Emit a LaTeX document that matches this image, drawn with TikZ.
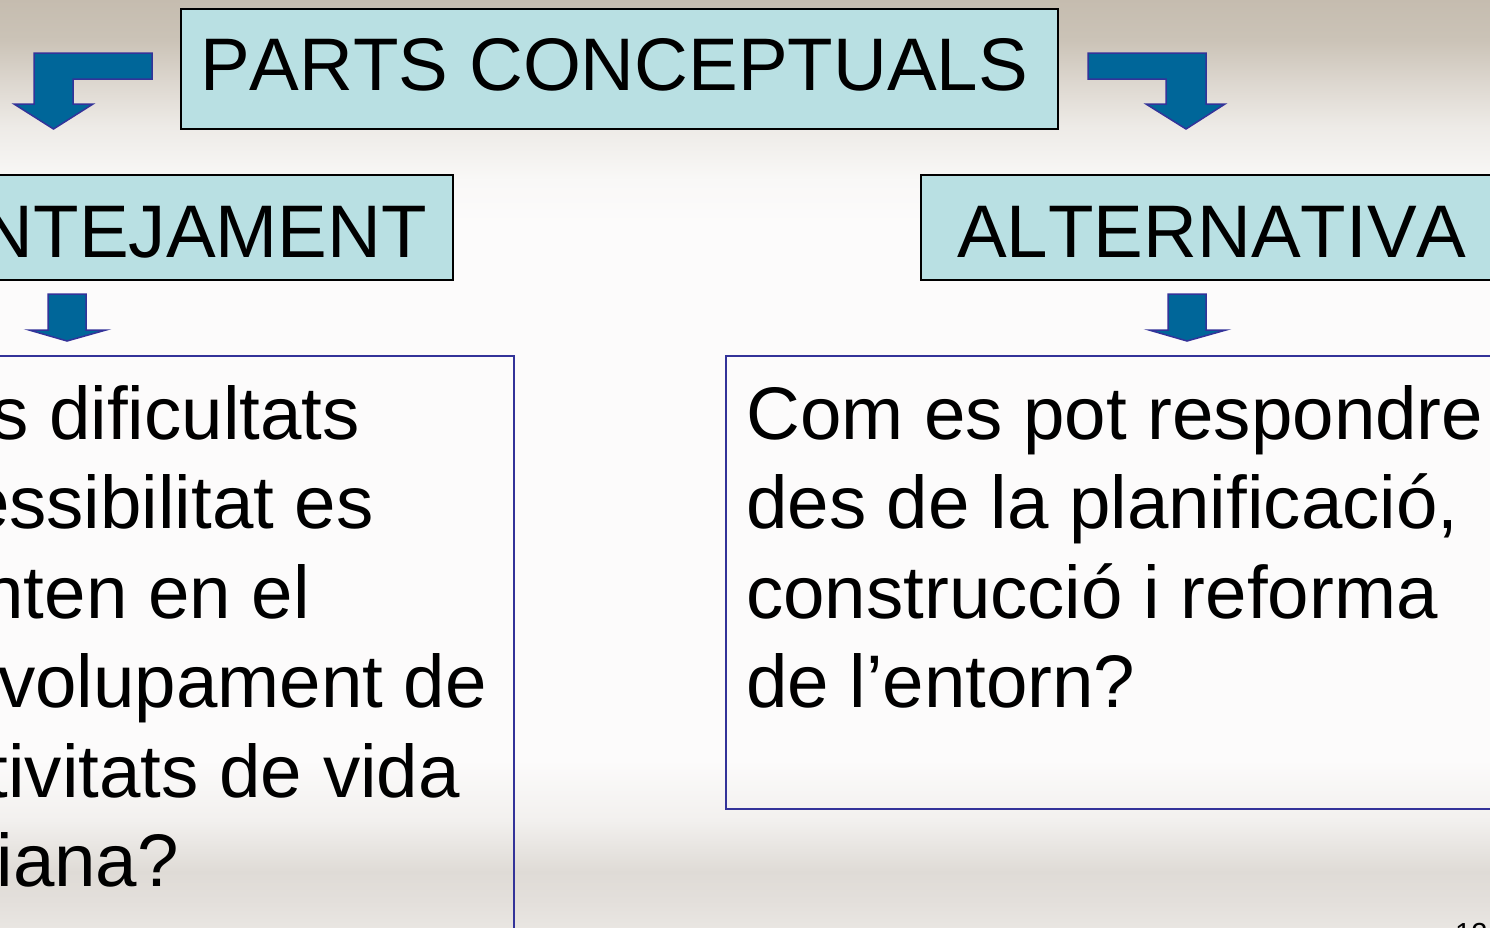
\documentclass[tikz,border=0pt]{standalone}
\usepackage{fontspec}
\setmainfont[Kerning=Off]{Liberation Sans}
\definecolor{boxfill}{HTML}{B9E0E3}
\definecolor{arrowfill}{HTML}{006699}
\definecolor{arrowline}{HTML}{333399}
\definecolor{framecol}{HTML}{333399}
\definecolor{bgA}{HTML}{C5BCAF}
\definecolor{bgB}{HTML}{CBC3B7}
\definecolor{bgC}{HTML}{DCD6CE}
\definecolor{bgD}{HTML}{EDEAE6}
\definecolor{bgE}{HTML}{F9F8F7}
\definecolor{bgF}{HTML}{FCFBFB}
\definecolor{bgG}{HTML}{F2F0EE}
\definecolor{bgH}{HTML}{DFDBD6}
\definecolor{bgI}{HTML}{E3DFDB}
\definecolor{bgJ}{HTML}{E9E6E2}
\tikzset{
  bigtext/.style={inner sep=0pt, font=\fontsize{74.5}{89.5}\selectfont},
  headbox/.style={draw=black, line width=2pt, fill=boxfill, inner sep=0pt},
  framebox/.style={draw=framecol, line width=2pt, inner sep=0pt},
  blockarrow/.style={fill=arrowfill, draw=arrowline, line width=1.5pt, line join=miter}
}
\begin{document}
\begin{tikzpicture}[x=1pt,y=-1pt]
\useasboundingbox (0,0) rectangle (1490,927);
\clip (0,0) rectangle (1490,927);
% background
\fill[top color=bgA, bottom color=bgB] (0,-1) rectangle (1490,40.5);
\fill[top color=bgB, bottom color=bgC] (0,40) rectangle (1490,80.5);
\fill[top color=bgC, bottom color=bgD] (0,80) rectangle (1490,125.5);
\fill[top color=bgD, bottom color=bgE] (0,125) rectangle (1490,180.5);
\fill[top color=bgE, bottom color=bgF] (0,180) rectangle (1490,225.5);
\fill[bgF] (0,225) rectangle (1490,760.5);
\fill[top color=bgF, bottom color=bgG] (0,760) rectangle (1490,820.5);
\fill[top color=bgG, bottom color=bgH] (0,820) rectangle (1490,871.5);
\fill[top color=bgH, bottom color=bgI] (0,871) rectangle (1490,900.5);
\fill[top color=bgI, bottom color=bgJ] (0,900) rectangle (1490,928);

% boxes
\node[headbox, minimum width=877pt, minimum height=120pt] (topbox) at (619.5,69) {};
\node[headbox, minimum width=473pt, minimum height=105pt] (lefthead) at (216.5,227.5) {};
\node[headbox, minimum width=589pt, minimum height=105pt] (righthead) at (1215.5,227.5) {};
\node[framebox, minimum width=534pt, minimum height=594pt] (leftframe) at (247,653) {};
\node[framebox, minimum width=784pt, minimum height=453pt] (rightframe) at (1118,582.5) {};

% heading texts
\node[bigtext, anchor=base west] (toptext) at (200,90) {PARTS CONCEPTUALS};
\node[bigtext, anchor=base east] (lefttext) at (427,257) {NTEJAMENT};
\node[bigtext, anchor=base west] (righttext) at (957,257) {ALTERNATIVA};

% left frame text
\node[bigtext, anchor=base east] (l1) at (360,439) {s dificultats};
\node[bigtext, anchor=base east] (l2) at (374,528.5) {essibilitat es};
\node[bigtext, anchor=base east] (l3) at (310,618) {nten en el};
\node[bigtext, anchor=base east] (l4) at (487,707.5) {volupament de};
\node[bigtext, anchor=base east] (l5) at (460,797) {tivitats de vida};
\node[bigtext, anchor=base east] (l6) at (179,886.5) {iana?};

% right frame text
\node[bigtext, anchor=base west] (r1) at (746,439) {Com es pot respondre};
\node[bigtext, anchor=base west] (r2) at (746,528.5) {des de la planificació,};
\node[bigtext, anchor=base west] (r3) at (746,618) {construcció i reforma};
\node[bigtext, anchor=base west] (r4) at (746,707.5) {de l’entorn?};

% page number
\node[inner sep=0pt, anchor=base west, font=\fontsize{29}{34}\selectfont] (pagenum) at (1455,943) {12};

% block arrows
\draw[blockarrow] (152,53) -- (34,53) -- (34,104) -- (14,104) -- (53.5,129) -- (93,104) -- (73,104) -- (73,79) -- (152,79) -- cycle;
\draw[blockarrow] (1088,53) -- (1206,53) -- (1206,104) -- (1225,104) -- (1186,129) -- (1146,104) -- (1166,104) -- (1166,79) -- (1088,79) -- cycle;
\draw[blockarrow] (48,294) -- (86,294) -- (86,330) -- (106,330) -- (67,341) -- (29,330) -- (48,330) -- cycle;
\draw[blockarrow] (1168,294) -- (1206,294) -- (1206,330) -- (1226,330) -- (1187,341) -- (1149,330) -- (1168,330) -- cycle;
\end{tikzpicture}
\end{document}
